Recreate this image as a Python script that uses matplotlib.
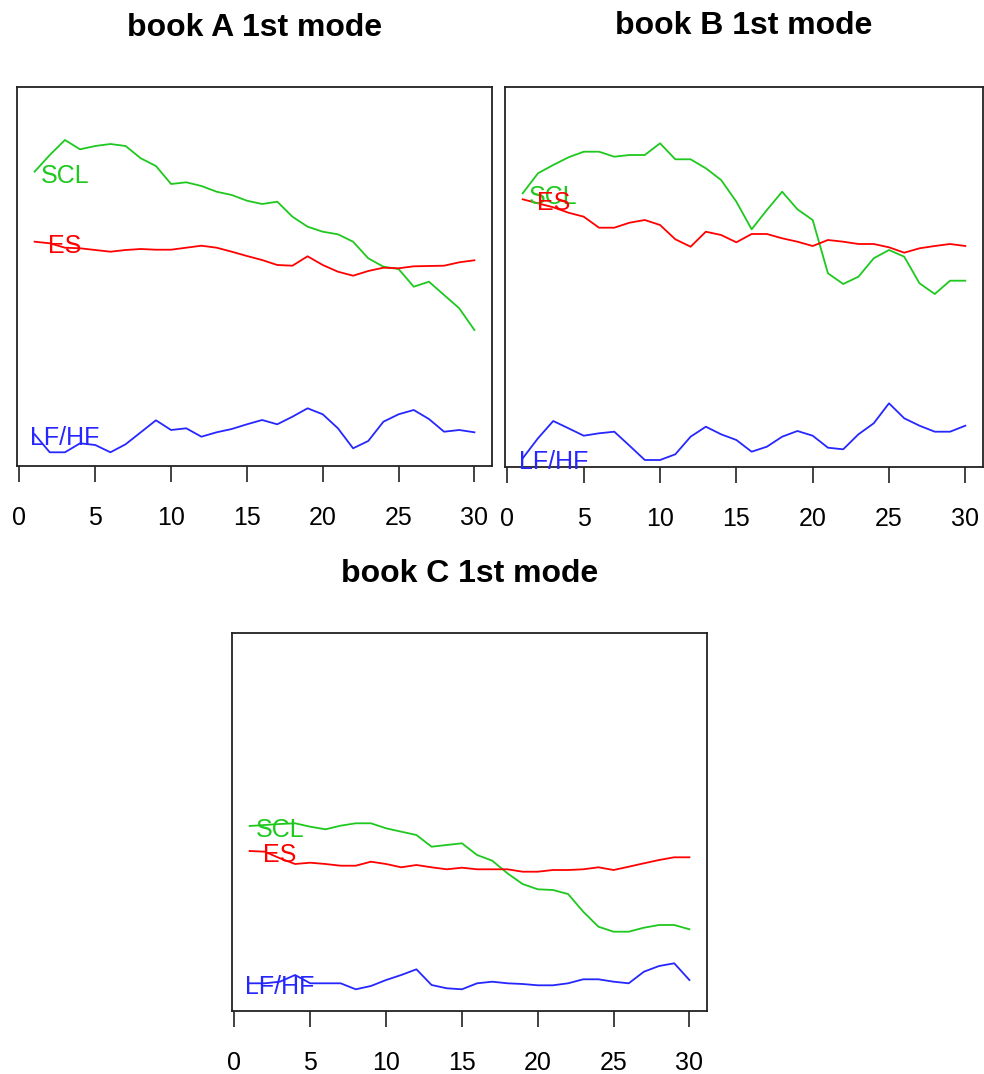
import numpy as np
import matplotlib.pyplot as plt

plt.rcParams['font.family'] = ['Liberation Sans', 'DejaVu Sans']

# time index (1..30) shared by all three books
t = np.arange(1, 31)

# book A, 1st mode (arbitrary units, no y scale shown)
a_scl = [294.3, 311.0, 326.0, 316.7, 320.0, 322.0, 320.0, 307.7, 300.0, 282.0,
         283.7, 280.0, 274.3, 271.0, 265.3, 262.0, 264.3, 249.3, 239.3, 234.3,
         231.7, 224.3, 207.7, 199.3, 197.0, 179.3, 184.3, 171.0, 157.7, 136.0]
a_es = [224.3, 222.7, 218.3, 217.7, 216.0, 214.3, 216.0, 217.0, 216.3, 216.3,
        218.3, 220.3, 218.3, 214.3, 210.0, 206.0, 201.0, 200.3, 209.7, 201.0,
        194.3, 190.3, 195.0, 198.3, 197.7, 199.7, 200.0, 200.3, 203.7, 205.7]
a_lfhf = [31.7, 13.7, 13.7, 22.7, 21.0, 13.7, 21.7, 33.7, 45.7, 36.0,
          37.7, 29.3, 33.7, 37.0, 41.7, 46.0, 41.7, 49.3, 57.7, 51.7,
          37.7, 17.7, 25.0, 44.3, 51.7, 56.0, 47.0, 34.3, 36.0, 33.7]

# book B, 1st mode
b_scl = [273.7, 293.7, 302.0, 309.7, 315.3, 315.3, 310.3, 312.0, 312.0, 323.7,
         307.7, 307.7, 298.7, 287.0, 265.3, 237.7, 257.0, 275.3, 257.7, 247.0,
         193.7, 183.0, 190.3, 208.7, 217.0, 210.3, 183.7, 173.0, 186.3, 186.3]
b_es = [267.7, 263.7, 259.7, 254.3, 250.3, 239.3, 239.3, 244.3, 247.0, 242.0,
        227.7, 220.3, 235.3, 232.0, 224.7, 233.0, 233.0, 228.7, 225.3, 221.0,
        227.0, 225.3, 223.0, 223.0, 219.7, 214.3, 218.7, 221.0, 223.0, 221.0]
b_lfhf = [8.7, 28.7, 46.0, 38.7, 31.3, 33.7, 35.3, 21.3, 7.0, 7.0,
          12.7, 30.3, 40.3, 32.7, 27.0, 15.3, 20.3, 30.3, 36.0, 31.3,
          19.3, 17.7, 32.7, 43.7, 63.7, 48.7, 41.3, 35.3, 35.3, 41.3]

# book C, 1st mode
c_scl = [185.0, 186.0, 187.0, 187.7, 184.3, 181.7, 185.3, 187.7, 187.7, 182.7,
         179.3, 176.0, 164.3, 166.0, 167.7, 156.0, 150.3, 137.7, 127.0, 121.7,
         121.0, 117.0, 99.3, 84.3, 79.3, 79.3, 83.3, 86.0, 86.0, 81.7]
c_es = [160.0, 159.3, 152.7, 147.0, 148.3, 147.0, 145.3, 145.3, 149.3, 147.0,
        143.7, 146.0, 143.7, 141.7, 143.3, 141.7, 141.7, 141.7, 139.3, 139.3,
        141.0, 141.0, 141.7, 143.7, 141.0, 144.3, 147.7, 151.0, 153.7, 153.7]
c_lfhf = [27.7, 27.7, 29.3, 36.0, 27.7, 27.7, 27.7, 21.7, 25.0, 31.0,
          36.0, 41.7, 26.0, 22.7, 21.7, 27.7, 29.3, 27.7, 27.0, 25.7,
          25.7, 27.7, 31.7, 31.7, 29.3, 27.7, 39.3, 45.0, 47.7, 31.0]

names = ['SCL', 'ES', 'LF/HF']
colors = ['#1ec81e', '#ff0000', '#2626ff']
titles = ['book A 1st mode', 'book B 1st mode', 'book C 1st mode']
xticks = [0, 5, 10, 15, 20, 25, 30]

W, H = 984, 1074
fig = plt.figure(figsize=(W / 100, H / 100), dpi=100)


def px_axes(left, top, right, bottom):
    # axes from pixel box of the reference
    return fig.add_axes([left / W, 1 - bottom / H, (right - left) / W, (bottom - top) / H])


panels = [
    (px_axes(17, 87, 492, 466), [a_scl, a_es, a_lfhf], 379, 36),
    (px_axes(505, 87, 983, 467), [b_scl, b_es, b_lfhf], 380, 34),
    (px_axes(232, 633, 707, 1011), [c_scl, c_es, c_lfhf], 378, 582),
]

for (ax, series, ytop, title_y), title in zip(panels, titles):
    for y, name, col in zip(series, names, colors):
        ax.plot(t, y, color=col, lw=1.3)
        ax.annotate(name, (3, y[0]), xytext=(0, -3), textcoords='offset points',
                    ha='center', va='center', color=col, fontsize=18)
    ax.set_xlim(-0.16, 31.16)
    ax.set_ylim(0, ytop)
    ax.set_xticks(xticks)
    ax.set_yticks([])
    ax.tick_params(axis='x', direction='out', length=11.5, width=1.2,
                   labelsize=18, pad=17, color='#222222')
    for s in ax.spines.values():
        s.set_linewidth(1.3)
        s.set_color('#222222')
    bb = ax.get_position()
    fig.text(bb.x0 + bb.width / 2, 1 - title_y / H, title, ha='center',
             va='baseline', fontsize=23, fontweight='bold')

fig.savefig('out.png', dpi=100)
